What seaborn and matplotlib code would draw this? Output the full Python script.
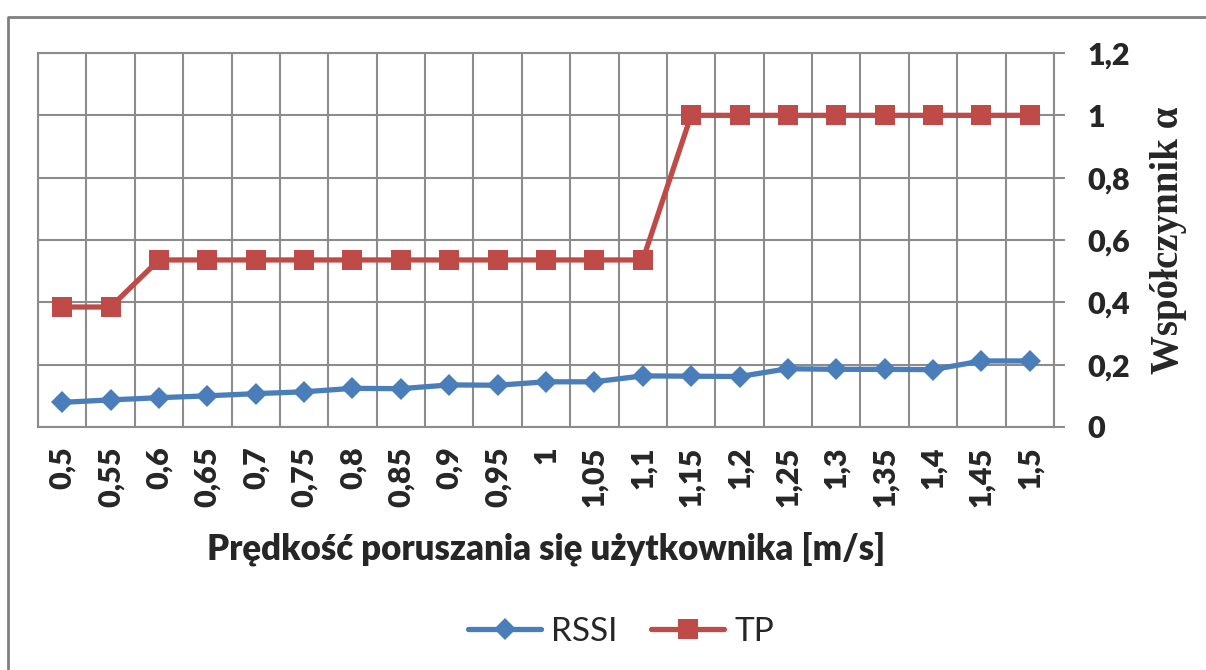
import matplotlib
matplotlib.use("Agg")
import matplotlib.pyplot as plt
from matplotlib.lines import Line2D
import pandas as pd
import seaborn as sns

# speeds on the x axis [m/s]
speeds = [0.5, 0.55, 0.6, 0.65, 0.7, 0.75, 0.8, 0.85, 0.9, 0.95, 1.0,
          1.05, 1.1, 1.15, 1.2, 1.25, 1.3, 1.35, 1.4, 1.45, 1.5]
speed_labels = ["0,5", "0,55", "0,6", "0,65", "0,7", "0,75", "0,8", "0,85",
                "0,9", "0,95", "1", "1,05", "1,1", "1,15", "1,2", "1,25",
                "1,3", "1,35", "1,4", "1,45", "1,5"]
# coefficient alpha for both methods
rssi = [0.079, 0.087, 0.094, 0.100, 0.107, 0.113, 0.124, 0.123, 0.135,
        0.134, 0.145, 0.145, 0.164, 0.163, 0.162, 0.187, 0.185, 0.185,
        0.184, 0.212, 0.212]
tp = [0.385, 0.385, 0.536, 0.536, 0.536, 0.536, 0.536, 0.536, 0.536,
      0.536, 0.536, 0.536, 0.536, 1.0, 1.0, 1.0, 1.0, 1.0, 1.0, 1.0, 1.0]
y_ticks = [0, 0.2, 0.4, 0.6, 0.8, 1.0, 1.2]
y_tick_labels = ["0", "0,2", "0,4", "0,6", "0,8", "1", "1,2"]

blue = "#4A7EBB"
red = "#BE4B48"
grid_col = "#8C8C8C"
heavy = 800

sns.set_style("white")
plt.rcParams["font.family"] = ["Lato", "DejaVu Sans"]

df = pd.DataFrame({"pos": range(len(speeds)), "speed": speeds,
                   "RSSI": rssi, "TP": tp})

fig = plt.figure(figsize=(12.06, 6.70), dpi=100)
ax = fig.add_axes([38 / 1206, 1 - 427 / 670, (1054 - 38) / 1206,
                   (427 - 53) / 670])

sns.lineplot(data=df, x="pos", y="RSSI", ax=ax, color=blue, lw=3.8,
             marker="D", markersize=11.5, markeredgewidth=0, label="RSSI",
             zorder=4)
sns.lineplot(data=df, x="pos", y="TP", ax=ax, color=red, lw=3.8,
             marker="s", markersize=14, markeredgewidth=0, label="TP",
             zorder=3)
ax.get_legend().remove()

# category axis like in the spreadsheet: gridlines between categories
n = len(speeds)
ax.set_xlim(-0.5, n - 0.5)
ax.set_xticks([i - 0.5 for i in range(n + 1)])
ax.set_xticklabels([])
ax.set_xticks(range(n), minor=True)
ax.set_xticklabels(speed_labels, minor=True, rotation=90, fontsize=22,
                   fontweight=heavy, va="top", ha="center")
ax.tick_params(axis="x", which="major", direction="out", length=7.5,
               width=1.5, color=grid_col)
ax.tick_params(axis="x", which="minor", length=0, pad=14)

ax.set_ylim(0, 1.2)
ax.yaxis.tick_right()
ax.yaxis.set_label_position("right")
ax.set_yticks(y_ticks)
ax.set_yticklabels(y_tick_labels, fontsize=22, fontweight=heavy)
ax.tick_params(axis="y", direction="out", length=8, width=1.5,
               color=grid_col, pad=16)

ax.grid(True, which="major", color=grid_col, lw=1.5)
for s in ax.spines.values():
    s.set_color(grid_col)
    s.set_linewidth(1.5)

ax.set_xlabel("Prędkość poruszania się użytkownika [m/s]", fontsize=25,
              fontweight=heavy, labelpad=18)
ax.set_ylabel("Współczynnik α", fontsize=28, fontweight="bold",
              family="Liberation Serif", labelpad=14)

# legend below the chart
handles = [Line2D([], [], color=blue, lw=3.8, marker="D", markersize=11.5,
                  markeredgewidth=0),
           Line2D([], [], color=red, lw=3.8, marker="s", markersize=14,
                  markeredgewidth=0)]
fig.legend(handles, ["RSSI", "TP"], loc="center", ncol=2, frameon=False,
           bbox_to_anchor=(0.515, 1 - 632 / 670), fontsize=24,
           handlelength=2.2, columnspacing=1.0, handletextpad=0.3)

# outer chart border (top and left visible)
fig.add_artist(Line2D([8 / 1206, 8 / 1206, 1.0], [0, 1 - 17 / 670,
                                                   1 - 17 / 670],
                      transform=fig.transFigure, color="#7F7F7F", lw=2))

fig.savefig("out.png", dpi=100)
